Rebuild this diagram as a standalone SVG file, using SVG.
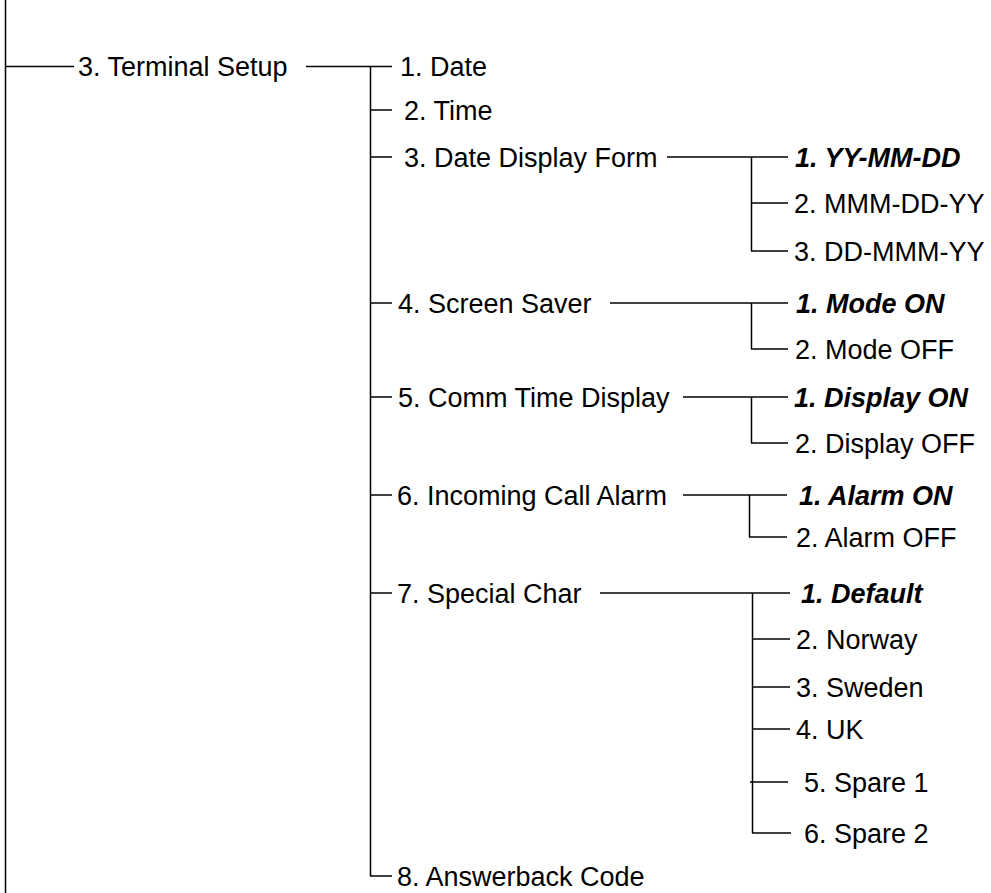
<svg xmlns="http://www.w3.org/2000/svg" width="991" height="893" viewBox="0 0 991 893">
<style>
.t{font-family:"Liberation Sans",Arial,sans-serif;font-size:27px;fill:#000}
.b{font-weight:bold;font-style:italic}
.c line{stroke:#000;stroke-width:1.5;fill:none}
</style>
<rect width="991" height="893" fill="#fff"/>
<g class="c" id="connectors">
<line x1="5.5" y1="0" x2="5.5" y2="893"/>
<line x1="5" y1="66.5" x2="74" y2="66.5"/>
<line x1="306" y1="66.5" x2="392" y2="66.5"/>
<line x1="370.5" y1="66" x2="370.5" y2="876"/>
<line x1="370" y1="110" x2="392" y2="110"/>
<line x1="370" y1="157" x2="392" y2="157"/>
<line x1="370" y1="303" x2="392" y2="303"/>
<line x1="370" y1="397" x2="392" y2="397"/>
<line x1="370" y1="495" x2="392" y2="495"/>
<line x1="370" y1="593" x2="392" y2="593"/>
<line x1="370" y1="876" x2="392" y2="876"/>
<line x1="667" y1="157" x2="788" y2="157"/>
<line x1="751.5" y1="157" x2="751.5" y2="251"/>
<line x1="751" y1="203" x2="788" y2="203"/>
<line x1="751" y1="251" x2="788" y2="251"/>
<line x1="610" y1="303" x2="788" y2="303"/>
<line x1="751.5" y1="303" x2="751.5" y2="349"/>
<line x1="751" y1="349" x2="788" y2="349"/>
<line x1="683" y1="397" x2="788" y2="397"/>
<line x1="751.5" y1="397" x2="751.5" y2="443"/>
<line x1="751" y1="443" x2="788" y2="443"/>
<line x1="683" y1="495" x2="787" y2="495"/>
<line x1="749.5" y1="495" x2="749.5" y2="537"/>
<line x1="749" y1="537" x2="787" y2="537"/>
<line x1="600" y1="593" x2="790" y2="593"/>
<line x1="752.5" y1="593" x2="752.5" y2="833"/>
<line x1="752" y1="639" x2="790" y2="639"/>
<line x1="752" y1="687" x2="790" y2="687"/>
<line x1="752" y1="729" x2="790" y2="729"/>
<line x1="750" y1="782" x2="788" y2="782"/>
<line x1="752" y1="833" x2="791" y2="833"/>
</g>
<g id="terminal-setup"><text class="t" x="78" y="76">3. Terminal Setup</text></g>
<g id="date"><text class="t" x="400" y="76">1. Date</text></g>
<g id="time"><text class="t" x="404" y="120">2. Time</text></g>
<g id="date-display-form"><text class="t" x="404" y="167">3. Date Display Form</text></g>
<g id="yy-mm-dd"><text class="t b" x="795" y="167">1. YY-MM-DD</text></g>
<g id="mmm-dd-yy"><text class="t" x="794" y="213">2. MMM-DD-YY</text></g>
<g id="dd-mmm-yy"><text class="t" x="794" y="261">3. DD-MMM-YY</text></g>
<g id="screen-saver"><text class="t" x="398" y="313">4. Screen Saver</text></g>
<g id="mode-on"><text class="t b" x="796" y="313">1. Mode ON</text></g>
<g id="mode-off"><text class="t" x="795" y="359">2. Mode OFF</text></g>
<g id="comm-time-display"><text class="t" x="398" y="407">5. Comm Time Display</text></g>
<g id="display-on"><text class="t b" x="794" y="407">1. Display ON</text></g>
<g id="display-off"><text class="t" x="795" y="453">2. Display OFF</text></g>
<g id="incoming-call-alarm"><text class="t" x="397" y="505">6. Incoming Call Alarm</text></g>
<g id="alarm-on"><text class="t b" x="799" y="505">1. Alarm ON</text></g>
<g id="alarm-off"><text class="t" x="796" y="547">2. Alarm OFF</text></g>
<g id="special-char"><text class="t" x="397" y="603">7. Special Char</text></g>
<g id="default"><text class="t b" x="801" y="603">1. Default</text></g>
<g id="norway"><text class="t" x="796" y="649">2. Norway</text></g>
<g id="sweden"><text class="t" x="796" y="697">3. Sweden</text></g>
<g id="uk"><text class="t" x="796" y="739">4. UK</text></g>
<g id="spare1"><text class="t" x="804" y="792">5. Spare 1</text></g>
<g id="spare2"><text class="t" x="804" y="843">6. Spare 2</text></g>
<g id="answerback-code"><text class="t" x="397" y="886">8. Answerback Code</text></g>
</svg>
